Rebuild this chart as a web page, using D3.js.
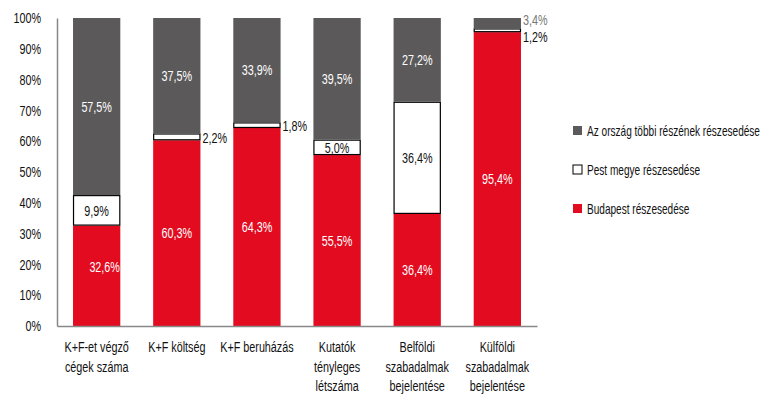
<!DOCTYPE html>
<html><head><meta charset="utf-8">
<script src="https://cdn.jsdelivr.net/npm/d3@7"></script>
<style>
body{margin:0;background:#fff;}
text{font-family:"Liberation Sans",Arial,sans-serif;}
</style></head>
<body><svg id="c" width="763" height="408"></svg>
<script>
const categories = [
  ["K+F-et végző","cégek száma"],
  ["K+F költség"],
  ["K+F beruházás"],
  ["Kutatók","tényleges","létszáma"],
  ["Belföldi","szabadalmak","bejelentése"],
  ["Külföldi","szabadalmak","bejelentése"]
];
const budapest = [32.6, 60.3, 64.3, 55.5, 36.4, 95.4];
const pest     = [9.9, 2.2, 1.8, 5.0, 36.4, 1.2];
const rest     = [57.5, 37.5, 33.9, 39.5, 27.2, 3.4];
const seriesNames = ["Budapest részesedése","Pest megye részesedése","Az ország többi részének részesedése"];
const yTicks = [0,10,20,30,40,50,60,70,80,90,100];

(function(){
const colors = ["#e30b20","#ffffff","#5b5959"];
const SX = 0.72, FS = 15;
const svg = d3.select("#c");
const left=57, right=537, topY=18, bottom=326;
const x = d3.scaleBand().domain(d3.range(categories.length)).range([left,right]).paddingInner(0.41).paddingOuter(0.2);
const y = d3.scaleLinear().domain([0,100]).range([bottom,topY]);
const fmt = v => d3.format(".1f")(v).replace(".",",")+"%";

// condensed text helper
const txt = (parent,tx,ty,str,fill,anchor,fs)=>parent.append("text")
  .attr("transform",`translate(${tx},${ty}) scale(${SX},1)`)
  .attr("dy","0.35em").attr("text-anchor",anchor||"middle")
  .attr("font-size",fs||FS).attr("fill",fill).text(str);

const rows = categories.map((c,i)=>({i, b:budapest[i], p:pest[i], r:rest[i]}));
const stack = d3.stack().keys(["b","p","r"])(rows);

stack.forEach((layer,k)=>{
  svg.append("g").selectAll("rect").data(layer).join("rect")
    .attr("x",d=>x(d.data.i)+(k===1?0.5:0))
    .attr("width",x.bandwidth()-(k===1?1:0))
    .attr("y",d=>y(d[1])+(k===1?0.5:0))
    .attr("height",d=>Math.max(0,y(d[0])-y(d[1])-(k===1?1:0)))
    .attr("fill",colors[k])
    .attr("stroke",k===1?"#000":"none")
    .attr("stroke-width",k===1?1.2:0);
});

const gy = svg.append("g").attr("transform",`translate(${left},0)`)
  .call(d3.axisLeft(y).tickValues(yTicks).tickSize(0).tickFormat(""));
gy.select(".domain").attr("stroke","#888").attr("stroke-width",1.5);
yTicks.forEach(t=>txt(svg,left-16,y(t),t+"%","#111","end"));

const gx = svg.append("g").attr("transform",`translate(0,${bottom})`)
  .call(d3.axisBottom(x).tickSize(0).tickFormat(""));
gx.select(".domain").attr("stroke","#888").attr("stroke-width",1.5);
categories.forEach((lines,i)=>{
  lines.forEach((l,j)=>txt(svg,x(i)+x.bandwidth()/2,347+j*19.5,l,"#111","middle"));
});

stack.forEach((layer,k)=>{
  layer.forEach(d=>{
    const i=d.data.i, v=d[1]-d[0];
    const cx = x(i)+x.bandwidth()/2, cy=(y(d[0])+y(d[1]))/2;
    const rx = x(i)+x.bandwidth()+2;
    if(k===0){
      if(i===0) txt(svg,cx+8,cy-9,fmt(v),"#fff");
      else txt(svg,cx,cy,fmt(v),"#fff");
    } else if(k===1){
      if(v>=4) txt(svg,cx,cy,fmt(v),"#111");
      else if(i===5) txt(svg,rx,cy+6,fmt(v),"#111","start");
      else txt(svg,rx,cy+1,fmt(v),"#111","start");
    } else {
      if(v>=5) txt(svg,cx,cy,fmt(v),"#fff");
      else txt(svg,rx,cy-3,fmt(v),"#777","start");
    }
  });
});

const legY=[209,170,131];
seriesNames.forEach((n,k)=>{
  svg.append("rect").attr("x",573).attr("y",legY[k]-5).attr("width",9).attr("height",9)
    .attr("fill",colors[k]).attr("stroke",k===1?"#000":"none").attr("stroke-width",1);
  txt(svg,587,legY[k],n,"#111","start",14);
});
})();
</script></body></html>
